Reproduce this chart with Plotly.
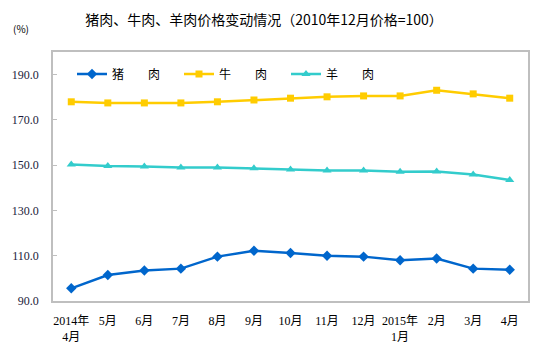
import plotly.graph_objects as go

categories = ["2014年<br>4月", "5月", "6月", "7月", "8月", "9月", "10月", "11月", "12月",
              "2015年<br>1月", "2月", "3月", "4月"]
pork = [95.6, 101.5, 103.5, 104.3, 109.6, 112.2, 111.2, 110.0, 109.6, 108.0, 108.8, 104.3, 103.8]
beef = [178.0, 177.5, 177.5, 177.5, 178.0, 178.8, 179.6, 180.2, 180.6, 180.6, 183.1, 181.5, 179.6]
lamb = [150.3, 149.6, 149.4, 149.0, 149.0, 148.6, 148.1, 147.7, 147.7, 147.1, 147.2, 145.9, 143.5]
names = ["猪　　肉", "牛　　肉", "羊　　肉"]
y_ticks = [90, 110, 130, 150, 170, 190]

x = list(range(len(categories)))
fig = go.Figure()
fig.add_trace(go.Scatter(x=x, y=pork, name=names[0], mode="lines+markers",
                         line=dict(color="#0066CC", width=2.5),
                         marker=dict(symbol="diamond", size=8, color="#0066CC")))
fig.add_trace(go.Scatter(x=x, y=beef, name=names[1], mode="lines+markers",
                         line=dict(color="#FFCC00", width=2.5),
                         marker=dict(symbol="square", size=7, color="#FFCC00")))
fig.add_trace(go.Scatter(x=x, y=lamb, name=names[2], mode="lines+markers",
                         line=dict(color="#33CCCC", width=2.5),
                         marker=dict(symbol="triangle-up", size=8, color="#33CCCC")))

fig.update_layout(
    width=547, height=353,
    margin=dict(l=53, r=19, t=52, b=52),
    paper_bgcolor="white", plot_bgcolor="white",
    title=dict(text="猪肉、牛肉、羊肉价格变动情况（2010年12月价格=100）",
               x=264/547, xanchor="center", y=1-20/353, yanchor="middle",
               font=dict(family="Noto Sans CJK SC", size=14, color="#000")),
    showlegend=True,
    legend=dict(orientation="h", x=(72-53)/475, xanchor="left", y=(301-74)/249, yanchor="middle",
                entrywidth=62, entrywidthmode="pixels", bgcolor="rgba(0,0,0,0)",
                font=dict(family="Noto Sans CJK SC", size=12, color="#000"),
                itemsizing="trace"),
    xaxis=dict(range=[-0.5, 12.5], tickmode="array", tickvals=x, ticktext=categories,
               showgrid=False, zeroline=False, showline=True, linecolor="#BFBFBF", linewidth=1.5,
               mirror=True, ticks="", ticklabelstandoff=8, automargin=False,
               tickfont=dict(family="Liberation Serif, Noto Sans CJK SC", size=12, color="#000")),
    yaxis=dict(range=[90, 200], tickmode="array", tickvals=y_ticks,
               ticktext=[f"{v:.1f}" for v in y_ticks],
               showgrid=False, zeroline=False, showline=True, linecolor="#BFBFBF", linewidth=1.5,
               mirror=True, ticks="inside", ticklen=4, tickcolor="#BFBFBF", ticklabelstandoff=10,
               automargin=False,
               tickfont=dict(family="Liberation Serif", size=12, color="#1a1a3a")),
    annotations=[dict(text="(%)", x=(21-53)/475, y=(301-29)/249, xref="paper", yref="paper",
                      showarrow=False, xanchor="center", yanchor="middle",
                      font=dict(family="Noto Sans CJK SC", size=10, color="#000"))],
)
fig.write_html("out.html")
